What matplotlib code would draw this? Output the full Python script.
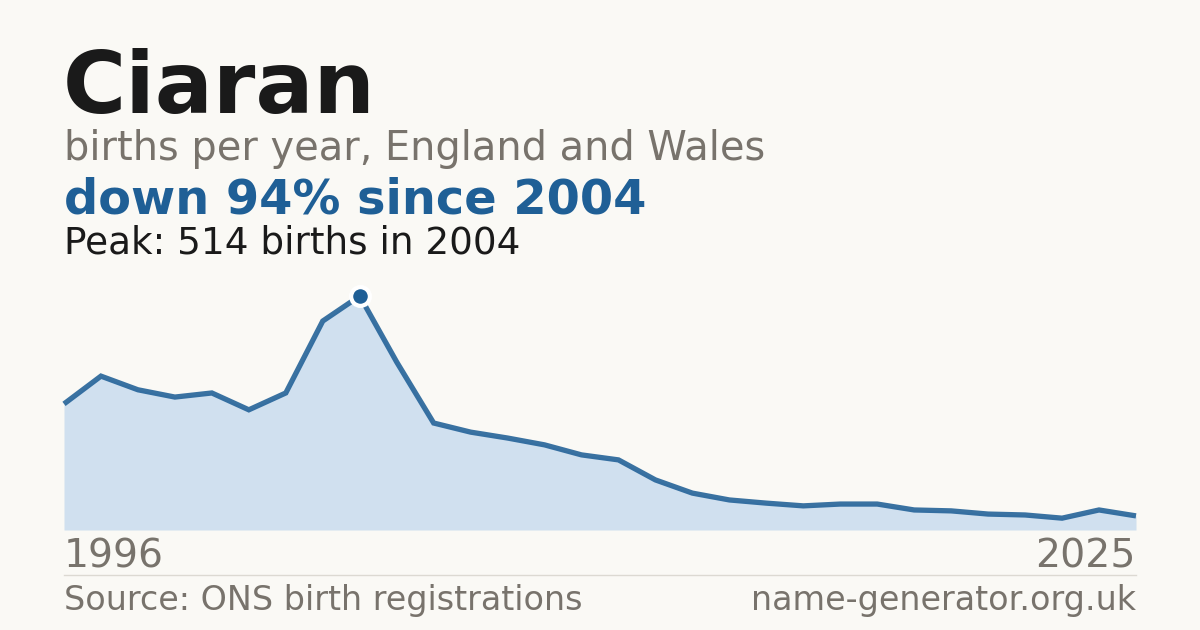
import matplotlib
matplotlib.use("Agg")
import matplotlib.pyplot as plt

years = list(range(1996, 2026))
births = [277, 338, 308, 292, 301, 264, 301, 459, 514, 369,
          235, 215, 202, 187, 165, 154, 110, 81, 66, 59,
          53, 57, 57, 44, 42, 35, 33, 26, 44, 31]

name = "Ciaran"
subtitle = "births per year, England and Wales"
headline = "down 94% since 2004"
peak_text = "Peak: 514 births in 2004"
source = "Source: ONS birth registrations"
site = "name-generator.org.uk"

BG = "#faf9f5"
DARK = "#1a1a1a"
GREY = "#78736c"
BLUE = "#1f5f96"
FILL = "#d0e0ef"

W, H = 1200, 630
fig = plt.figure(figsize=(W / 100, H / 100), dpi=100, facecolor=BG)

def fx(px):
    return px / W

def fy(py):
    return 1 - py / H

ax = fig.add_axes([fx(64), fy(530), fx(1136) - fx(64), fy(296) - fy(530)])
ax.set_facecolor("none")
ax.set_xlim(years[0], years[-1])
ax.set_ylim(0, max(births))
ax.fill_between(years, births, 0, color=FILL, linewidth=0)
ax.plot(years, births, color=BLUE, linewidth=3.8, alpha=0.88,
        solid_joinstyle="miter", solid_capstyle="butt", clip_on=False)
pk = births.index(max(births))
ax.plot(years[pk], births[pk], "o", markersize=13.5, color=BLUE,
        markeredgecolor="white", markeredgewidth=3, clip_on=False, zorder=5)
ax.axis("off")

fig.text(fx(63), fy(113), name, fontsize=62, fontweight="bold", color=DARK,
         family="DejaVu Sans", va="baseline", ha="left")
fig.text(fx(64), fy(160), subtitle, fontsize=28.7, color=GREY,
         family="DejaVu Sans", va="baseline", ha="left")
fig.text(fx(64), fy(214), headline, fontsize=34.5, fontweight="bold", color=BLUE,
         family="DejaVu Sans", va="baseline", ha="left")
fig.text(fx(64), fy(254), peak_text, fontsize=26.9, color=DARK,
         family="DejaVu Sans", va="baseline", ha="left")

fig.text(fx(64), fy(568), str(years[0]), fontsize=28.4, color=GREY,
         family="DejaVu Sans", va="baseline", ha="left")
fig.text(fx(1136), fy(568), str(years[-1]), fontsize=28.4, color=GREY,
         family="DejaVu Sans", va="baseline", ha="right")

fig.add_artist(plt.Line2D([fx(64), fx(1136)], [fy(574.5), fy(574.5)],
                          color="#dcd9d2", linewidth=1))

fig.text(fx(64), fy(610), source, fontsize=24, color=GREY,
         family="DejaVu Sans", va="baseline", ha="left")
fig.text(fx(1136), fy(610), site, fontsize=24, color=GREY,
         family="DejaVu Sans", va="baseline", ha="right")

fig.savefig("out.png", dpi=100, facecolor=BG)
